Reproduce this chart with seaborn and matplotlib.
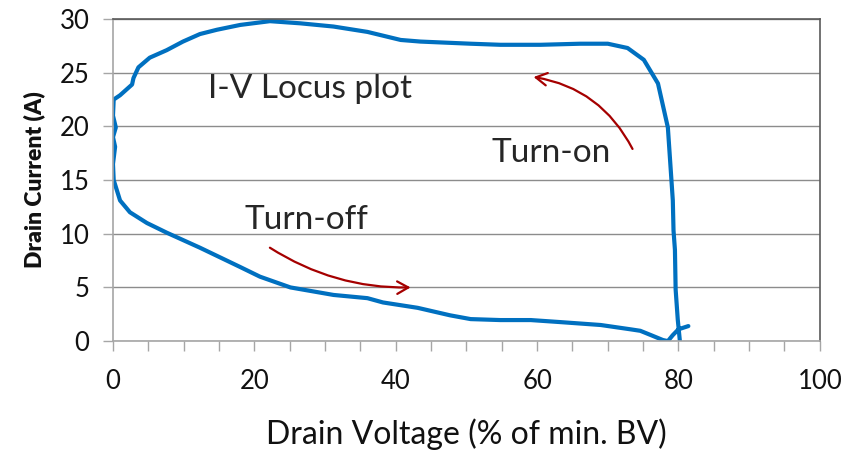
import matplotlib
matplotlib.use("Agg")
import matplotlib.pyplot as plt
from matplotlib.ticker import MultipleLocator
import seaborn as sns
import pandas as pd

# I-V locus (drain voltage %, drain current A)
drain_voltage = [80.2, 79.9, 79.6, 79.5, 79.3, 79.2, 78.5, 77.1, 75.1, 72.8, 70.0, 66.1,
                 60.5, 54.8, 50.6, 43.5, 40.7, 36.0, 31.2, 26.5, 22.2, 18.0, 14.7, 12.3,
                 9.9, 7.6, 5.2, 3.6, 2.9, 2.7, 1.0, 0.1, 0.0, 0.4, 0.0, 0.3, 0.0, 0.1,
                 1.0, 2.4, 4.8, 7.6, 12.3, 16.1, 18.0, 20.8, 25.1, 31.2, 36.0, 38.2,
                 43.1, 47.7, 50.6, 54.8, 59.1, 63.3, 69.0, 73.2, 74.6, 76.1, 77.8, 78.5,
                 79.2, 80.0, 81.4]
drain_current = [0.0, 2.0, 4.8, 8.5, 10.3, 13.1, 19.9, 24.0, 26.2, 27.3, 27.7, 27.7,
                 27.6, 27.6, 27.7, 27.9, 28.05, 28.8, 29.3, 29.6, 29.8, 29.45, 29.0, 28.6,
                 27.9, 27.1, 26.4, 25.5, 24.5, 23.9, 22.9, 22.5, 21.0, 19.9, 19.0, 18.1,
                 16.5, 15.0, 13.1, 12.0, 11.0, 10.1, 8.7, 7.5, 6.9, 6.0, 5.0, 4.3, 4.0,
                 3.6, 3.1, 2.4, 2.05, 1.96, 1.96, 1.77, 1.5, 1.1, 0.96, 0.56, 0.1, 0.0,
                 0.56, 1.1, 1.4]

df = pd.DataFrame({"v": drain_voltage, "i": drain_current})

sns.set_style("white")
plt.rcParams['font.family'] = ['Lato', 'DejaVu Sans']

fig = plt.figure(figsize=(8.54, 4.53), dpi=100)
ax = fig.add_axes([0.1323, 0.247, 0.8277, 0.711])

# horizontal gridlines
ax.set_axisbelow(True)
ax.yaxis.grid(True, color='#8c8c8c', linewidth=1)

sns.lineplot(data=df, x="v", y="i", sort=False, estimator=None, color='#0070C0',
             linewidth=3.0, ax=ax)

ax.set_xlim(0, 100)
ax.set_ylim(0, 30)
ax.xaxis.set_major_locator(MultipleLocator(20))
ax.xaxis.set_minor_locator(MultipleLocator(5))
ax.yaxis.set_major_locator(MultipleLocator(5))
ax.tick_params(axis='both', which='both', direction='out', length=7, width=1,
               color='#a6a6a6', labelsize=18.5, labelcolor='#111111')
ax.tick_params(axis='x', which='both', bottom=True, pad=13)
ax.tick_params(axis='y', left=True, pad=10)

for s in ['left', 'bottom']:
    ax.spines[s].set_color('#a6a6a6')
for s in ['top', 'right']:
    ax.spines[s].set_color('#5a5a5a')
for s in ax.spines.values():
    s.set_linewidth(1.2)

ax.set_xlabel("Drain Voltage (% of min. BV)", fontsize=23, labelpad=18, color='#111111')
ax.set_ylabel("Drain Current (A)", fontsize=16.5, fontweight='heavy', labelpad=10, color='#111111')

# annotations
ax.text(27.9, 22.65, "I-V Locus plot", fontsize=24, ha='center', va='baseline')
ax.text(62.0, 16.7, "Turn-on", fontsize=24, ha='center', va='baseline')
ax.text(27.3, 10.44, "Turn-off", fontsize=24, ha='center', va='baseline')

arrow_color = '#a50000'
ax.annotate("", xy=(59.5, 24.6), xytext=(73.5, 17.9),
            arrowprops=dict(arrowstyle="->,head_length=0.8,head_width=0.45",
                            color=arrow_color, lw=1.6,
                            connectionstyle="arc3,rad=0.25", shrinkA=0, shrinkB=0))
ax.annotate("", xy=(42.1, 5.0), xytext=(22.2, 8.7),
            arrowprops=dict(arrowstyle="->,head_length=0.8,head_width=0.45",
                            color=arrow_color, lw=1.6,
                            connectionstyle="arc3,rad=0.15", shrinkA=0, shrinkB=0))

fig.savefig("out.png", dpi=100)
